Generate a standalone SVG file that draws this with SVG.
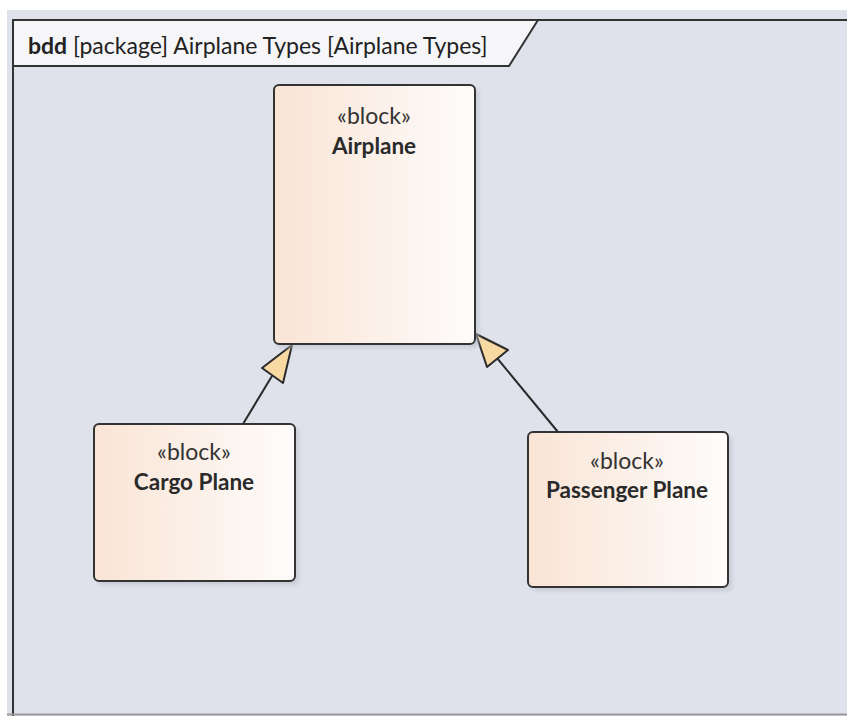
<svg xmlns="http://www.w3.org/2000/svg" width="847" height="716" viewBox="0 0 847 716">
<defs>
<linearGradient id="blk" x1="0" y1="0" x2="1" y2="0">
<stop offset="0" stop-color="#f9e4d5"/>
<stop offset="1" stop-color="#fefcfb"/>
</linearGradient>
<filter id="sh" x="-10%" y="-10%" width="130%" height="130%">
<feGaussianBlur stdDeviation="2"/>
</filter>
</defs>
<style>
.box{fill:url(#blk);stroke:#333;stroke-width:2}
.shadow{fill:#b9bdc7;opacity:0.6;filter:url(#sh)}
.st{font-family:Lato,"Open Sans",sans-serif;font-size:23px;fill:#333;text-anchor:middle}
.nm{font-family:Lato,"Open Sans",sans-serif;font-size:22.5px;font-weight:bold;fill:#2a2a2a;text-anchor:middle}
.ttl{font-family:Lato,"Open Sans",sans-serif;font-size:23px;fill:#222}
.conn{stroke:#2a2a2a;stroke-width:2;fill:none}
.head{fill:#f9d9a2;stroke:#2a2a2a;stroke-width:2;stroke-linejoin:round}
</style>
<rect x="0" y="0" width="847" height="716" fill="#ffffff"/>
<rect x="7" y="10" width="840" height="706" fill="#dfe2eb"/>
<g id="frame">
<path d="M13,716 V20 H847" fill="none" stroke="#333" stroke-width="2"/>
<line x1="7" y1="714.5" x2="847" y2="714.5" stroke="#9a9a9a" stroke-width="2"/>
<path d="M13,20 H538 L509,66 H13 Z" fill="#f6f6f9" stroke="#333" stroke-width="2"/>
<text class="ttl" x="28" y="54"><tspan font-weight="bold">bdd</tspan> [package] Airplane Types [Airplane Types]</text>
</g>
<g id="connectors">
<line class="conn" x1="243" y1="424" x2="272" y2="376"/>
<polygon class="head" points="292,345 262,368 283,383"/>
<line class="conn" x1="558" y1="432" x2="497" y2="358"/>
<polygon class="head" points="476,334 487,367 508,350"/>
</g>
<g id="airplane">
<rect class="shadow" x="277" y="89" width="202" height="259" rx="5"/>
<rect class="box" x="274" y="85" width="201" height="259" rx="5"/>
<text class="st" x="374" y="124">«block»</text>
<text class="nm" x="374" y="154">Airplane</text>
</g>
<g id="cargo">
<rect class="shadow" x="98" y="428" width="201" height="157" rx="5"/>
<rect class="box" x="94" y="424" width="201" height="157" rx="5"/>
<text class="st" x="194" y="460">«block»</text>
<text class="nm" x="194" y="490">Cargo Plane</text>
</g>
<g id="passenger">
<rect class="shadow" x="532" y="436" width="200" height="155" rx="5"/>
<rect class="box" x="528" y="432" width="200" height="155" rx="5"/>
<text class="st" x="627" y="469">«block»</text>
<text class="nm" x="627" y="498">Passenger Plane</text>
</g>
</svg>
